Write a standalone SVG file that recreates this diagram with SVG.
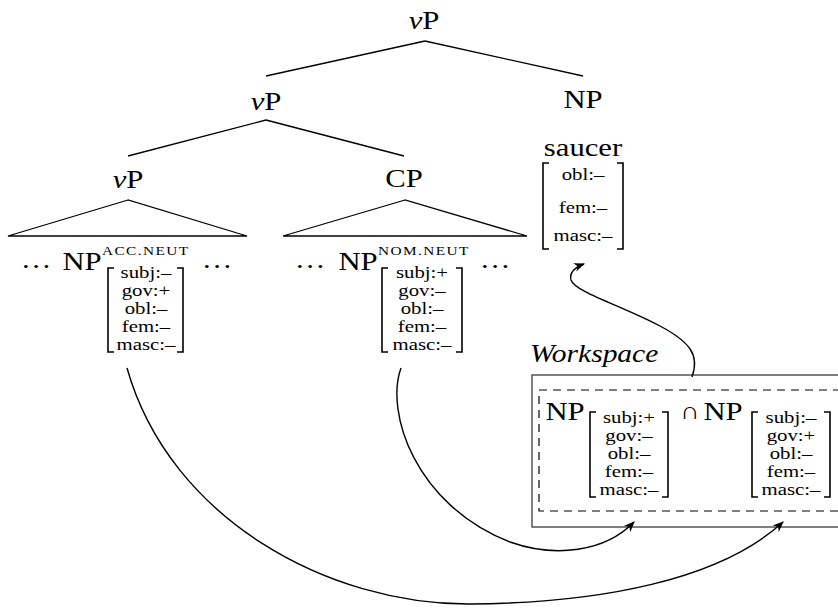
<svg xmlns="http://www.w3.org/2000/svg" width="838" height="608" viewBox="0 0 838 608">
<defs>
<style>
text{font-family:"Liberation Serif","Times New Roman",serif;fill:#000}
.lab{font-size:26px;text-anchor:middle}
.ft{font-size:16px;text-anchor:middle}
.sup{font-size:13px;letter-spacing:1.2px;text-anchor:start}
.edge{stroke:#000;stroke-width:1.3;fill:none}
.br{stroke:#000;stroke-width:1.6;fill:none}
.arc{stroke:#000;stroke-width:1.4;fill:none;marker-end:url(#ah)}
</style>
<marker id="ah" viewBox="0 0 10 10" refX="9" refY="5" markerWidth="11" markerHeight="11" markerUnits="userSpaceOnUse" orient="auto">
<path d="M0,1 L10,5 L0,9 L3,5 z" fill="#000"/>
</marker>
</defs>
<rect width="838" height="608" fill="#fff"/>

<g id="edges">
<line class="edge" x1="425" y1="41" x2="266" y2="76"/>
<line class="edge" x1="425" y1="41" x2="583" y2="76"/>
<line class="edge" x1="266" y1="120" x2="128" y2="156"/>
<line class="edge" x1="266" y1="120" x2="404" y2="156"/>
<polygon class="edge" points="128,200 8,236 247,236"/>
<polygon class="edge" points="405,200 283,236 527,236"/>
</g>

<g id="vP-top"><text class="lab" transform="translate(424,29) scale(1.18,1)"><tspan font-style="italic">ν</tspan>P</text></g>
<g id="vP-mid"><text class="lab" transform="translate(266,110) scale(1.18,1)"><tspan font-style="italic">ν</tspan>P</text></g>
<g id="vP-low"><text class="lab" transform="translate(128,188) scale(1.18,1)"><tspan font-style="italic">ν</tspan>P</text></g>
<g id="CP"><text class="lab" transform="translate(404,187) scale(1.18,1)">CP</text></g>

<g id="NP-saucer">
<text class="lab" transform="translate(583,108) scale(1.18,1)">NP</text>
<text class="lab" transform="translate(583,156) scale(1.18,1)">saucer</text>
<path class="br" d="M549,163 H543 V249 H549"/>
<path class="br" d="M617,163 H623 V249 H617"/>
<g transform="translate(583,0) scale(1.3,1)">
<text class="ft" y="180">obl:–</text>
<text class="ft" y="213">fem:–</text>
<text class="ft" y="241">masc:–</text>
</g>
</g>

<g id="NP-acc">
<text class="lab" transform="translate(36,268) scale(1.18,1)">…</text>
<text class="lab" transform="translate(82,270) scale(1.18,1)">NP</text>
<text class="sup" transform="translate(102,255) scale(1.18,1)">ACC.NEUT</text>
<text class="lab" transform="translate(217,268) scale(1.18,1)">…</text>
<path class="br" d="M114,268 H108 V352 H114"/>
<path class="br" d="M177,268 H183 V352 H177"/>
<g transform="translate(146,0) scale(1.3,1)">
<text class="ft" y="278">subj:–</text>
<text class="ft" y="296">gov:+</text>
<text class="ft" y="314">obl:–</text>
<text class="ft" y="332">fem:–</text>
<text class="ft" y="350">masc:–</text>
</g>
</g>

<g id="NP-nom">
<text class="lab" transform="translate(310,268) scale(1.18,1)">…</text>
<text class="lab" transform="translate(358,270) scale(1.18,1)">NP</text>
<text class="sup" transform="translate(378,255) scale(1.18,1)">NOM.NEUT</text>
<text class="lab" transform="translate(495,268) scale(1.18,1)">…</text>
<path class="br" d="M388,268 H382 V352 H388"/>
<path class="br" d="M456,268 H462 V352 H456"/>
<g transform="translate(422,0) scale(1.3,1)">
<text class="ft" y="278">subj:+</text>
<text class="ft" y="296">gov:–</text>
<text class="ft" y="314">obl:–</text>
<text class="ft" y="332">fem:–</text>
<text class="ft" y="350">masc:–</text>
</g>
</g>

<g id="workspace">
<text transform="translate(530,362) scale(1.18,1)" font-size="25" font-style="italic">Workspace</text>
<rect x="532" y="375" width="330" height="152" fill="none" stroke="#555" stroke-width="1.5"/>
<rect x="539" y="390" width="320" height="121" fill="none" stroke="#000" stroke-width="1.2" stroke-dasharray="8 6"/>
<text class="lab" transform="translate(565,420) scale(1.18,1)">NP</text>
<path class="br" d="M596,412 H590 V497 H596"/>
<path class="br" d="M662,412 H668 V497 H662"/>
<g transform="translate(629,0) scale(1.3,1)">
<text class="ft" y="423">subj:+</text>
<text class="ft" y="441">gov:–</text>
<text class="ft" y="459">obl:–</text>
<text class="ft" y="477">fem:–</text>
<text class="ft" y="495">masc:–</text>
</g>
<text transform="translate(690,419) scale(1.1,1)" font-size="24" text-anchor="middle">∩</text>
<text class="lab" transform="translate(723,420) scale(1.18,1)">NP</text>
<path class="br" d="M758,412 H752 V497 H758"/>
<path class="br" d="M824,412 H830 V497 H824"/>
<g transform="translate(791,0) scale(1.3,1)">
<text class="ft" y="423">subj:–</text>
<text class="ft" y="441">gov:+</text>
<text class="ft" y="459">obl:–</text>
<text class="ft" y="477">fem:–</text>
<text class="ft" y="495">masc:–</text>
</g>
</g>

<g id="connectors">
<path class="arc" d="M692,377 C700,355 690,342 660,326 C620,305 575,292 571,280 C569,272 576,267 584,264"/>
<path class="arc" d="M401,368 C385,412 415,505 510,542 C555,558 605,552 634,522"/>
<path class="arc" d="M127,368 C170,520 330,605 470,604 C600,603 720,580 783,522"/>
</g>
</svg>
